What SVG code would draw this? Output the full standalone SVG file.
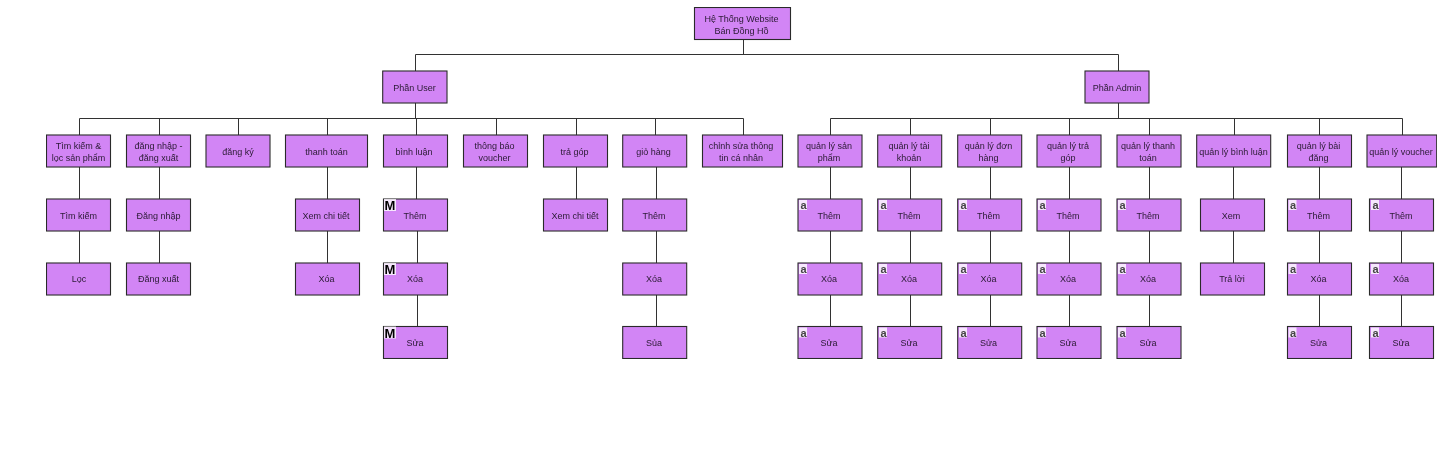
<svg xmlns="http://www.w3.org/2000/svg" width="1440" height="453" viewBox="0 0 1440 453">
<defs><filter id="soft" x="0" y="0" width="100%" height="100%"><feGaussianBlur stdDeviation="0.35"/></filter></defs>
<style>
rect.b{fill:#d285f5;stroke:#2c2c2c;stroke-width:1.1}
text{font-family:"Liberation Sans",Arial,sans-serif;font-size:9px;fill:#2a1a33;text-anchor:middle}
#connectors path{fill:none;stroke:#333;stroke-width:1}
rect.w{fill:#fff;stroke:none;opacity:.8}
text.m{font-size:13px;font-weight:bold;fill:#000}
text.a{font-size:11px;font-weight:bold;fill:#444}
</style>
<rect width="1440" height="453" fill="#fff"/>
<g filter="url(#soft)">
<g id="connectors">
<path d="M743.5 39V54.5M415.5 71V54.5H1118.5V71"/>
<path d="M415.5 103V118.5M1118.5 103V118.5"/>
<path d="M79.5 135V118.5H743.5V135M159.5 118.5V135M238.5 118.5V135M327.5 118.5V135M416.5 118.5V135M496.5 118.5V135M576.5 118.5V135M655.5 118.5V135"/>
<path d="M830.5 135V118.5H1402.5V135M910.5 118.5V135M990.5 118.5V135M1069.5 118.5V135M1149.5 118.5V135M1234.5 118.5V135M1319.5 118.5V135"/>
<path d="M79.5 167V263M159.5 167V263M327.5 167V263M416.5 167V199M417.5 231V326M576.5 167V199M656.5 167V326"/>
<path d="M830.5 167V326M910.5 167V326M990.5 167V326M1069.5 167V326M1149.5 167V326M1233.5 167V263M1319.5 167V326M1401.5 167V326"/>
</g>
<g id="root"><rect class="b" x="694.5" y="7.5" width="96" height="32"/><text x="741.5" y="21.5">Hệ Thống Website</text><text x="741.5" y="33.5">Bán Đồng Hồ</text></g>
<g id="user"><rect class="b" x="382.7" y="71" width="64.3" height="32"/><text x="414.5" y="90.5">Phần User</text></g>
<g id="admin"><rect class="b" x="1085" y="71" width="64" height="32"/><text x="1117" y="90.5">Phần Admin</text></g>

<g id="u1"><rect class="b" x="46.5" y="135" width="64" height="32"/><text x="78.5" y="149">Tìm kiếm &amp;</text><text x="78.5" y="161">lọc sản phẩm</text></g>
<g id="u1a"><rect class="b" x="46.5" y="199" width="64" height="32"/><text x="78.5" y="218.5">Tìm kiếm</text></g>
<g id="u1b"><rect class="b" x="46.5" y="263" width="64" height="32"/><text x="79" y="282">Lọc</text></g>
<g id="u2"><rect class="b" x="126.5" y="135" width="64" height="32"/><text x="158.5" y="149">đăng nhập -</text><text x="158.5" y="161">đăng xuất</text></g>
<g id="u2a"><rect class="b" x="126.5" y="199" width="64" height="32"/><text x="158.5" y="218.5">Đăng nhập</text></g>
<g id="u2b"><rect class="b" x="126.5" y="263" width="64" height="32"/><text x="158.5" y="282">Đăng xuất</text></g>
<g id="u3"><rect class="b" x="206" y="135" width="64" height="32"/><text x="238" y="154.5">đăng ký</text></g>
<g id="u4"><rect class="b" x="285.5" y="135" width="82" height="32"/><text x="326.5" y="154.5">thanh toán</text></g>
<g id="u4a"><rect class="b" x="295.5" y="199" width="64" height="32"/><text x="326" y="218.5">Xem chi tiết</text></g>
<g id="u4b"><rect class="b" x="295.5" y="263" width="64" height="32"/><text x="326.5" y="282">Xóa</text></g>
<g id="u5"><rect class="b" x="383.5" y="135" width="64" height="32"/><text x="414" y="154.5">bình luận</text></g>
<g id="u5a"><rect class="b" x="383.5" y="199" width="64" height="32"/><rect class="w" x="384" y="199" width="12" height="12"/><text class="m" x="390" y="210">M</text><text x="415" y="218.5">Thêm</text></g>
<g id="u5b"><rect class="b" x="383.5" y="263" width="64" height="32"/><rect class="w" x="384" y="263" width="12" height="12"/><text class="m" x="390" y="274">M</text><text x="415" y="282">Xóa</text></g>
<g id="u5c"><rect class="b" x="383.5" y="326.500" width="64" height="32"/><rect class="w" x="384" y="326.500" width="12" height="12"/><text class="m" x="390" y="337.500">M</text><text x="415" y="346">Sửa</text></g>
<g id="u6"><rect class="b" x="463.500" y="135" width="64" height="32"/><text x="494.500" y="149">thông báo</text><text x="494.500" y="161">voucher</text></g>
<g id="u7"><rect class="b" x="543.500" y="135" width="64" height="32"/><text x="574.500" y="154.500">trả góp</text></g>
<g id="u7a"><rect class="b" x="543.500" y="199" width="64" height="32"/><text x="575" y="218.500">Xem chi tiết</text></g>
<g id="u8"><rect class="b" x="622.700" y="135" width="64" height="32"/><text x="653.500" y="154.500">giỏ hàng</text></g>
<g id="u8a"><rect class="b" x="622.700" y="199" width="64" height="32"/><text x="654" y="218.500">Thêm</text></g>
<g id="u8b"><rect class="b" x="622.700" y="263" width="64" height="32"/><text x="654" y="282">Xóa</text></g>
<g id="u8c"><rect class="b" x="622.700" y="326.500" width="64" height="32"/><text x="654" y="346">Sủa</text></g>
<g id="u9"><rect class="b" x="702.500" y="135" width="80" height="32"/><text x="741" y="149">chỉnh sửa thông</text><text x="741" y="161">tin cá nhân</text></g>

<g id="a1"><rect class="b" x="798" y="135" width="64" height="32"/><text x="829" y="149">quản lý sản</text><text x="829" y="161">phẩm</text></g>
<g id="a1a"><rect class="b" x="798" y="199" width="64" height="32"/><rect class="w" x="799" y="200" width="8" height="10"/><text class="a" x="803.500" y="209">a</text><text x="829" y="218.500">Thêm</text></g>
<g id="a1b"><rect class="b" x="798" y="263" width="64" height="32"/><rect class="w" x="799" y="264" width="8" height="10"/><text class="a" x="803.500" y="273">a</text><text x="829" y="282">Xóa</text></g>
<g id="a1c"><rect class="b" x="798" y="326.500" width="64" height="32"/><rect class="w" x="799" y="327.500" width="8" height="10"/><text class="a" x="803.500" y="336.500">a</text><text x="829" y="346">Sửa</text></g>
<g id="a2"><rect class="b" x="877.700" y="135" width="64" height="32"/><text x="909" y="149">quản lý tài</text><text x="909" y="161">khoản</text></g>
<g id="a2a"><rect class="b" x="877.700" y="199" width="64" height="32"/><rect class="w" x="879" y="200" width="8" height="10"/><text class="a" x="883.500" y="209">a</text><text x="909" y="218.500">Thêm</text></g>
<g id="a2b"><rect class="b" x="877.700" y="263" width="64" height="32"/><rect class="w" x="879" y="264" width="8" height="10"/><text class="a" x="883.500" y="273">a</text><text x="909" y="282">Xóa</text></g>
<g id="a2c"><rect class="b" x="877.700" y="326.500" width="64" height="32"/><rect class="w" x="879" y="327.500" width="8" height="10"/><text class="a" x="883.500" y="336.500">a</text><text x="909" y="346">Sửa</text></g>
<g id="a3"><rect class="b" x="957.700" y="135" width="64" height="32"/><text x="988.500" y="149">quản lý đơn</text><text x="988.500" y="161">hàng</text></g>
<g id="a3a"><rect class="b" x="957.700" y="199" width="64" height="32"/><rect class="w" x="959" y="200" width="8" height="10"/><text class="a" x="963.500" y="209">a</text><text x="988.500" y="218.500">Thêm</text></g>
<g id="a3b"><rect class="b" x="957.700" y="263" width="64" height="32"/><rect class="w" x="959" y="264" width="8" height="10"/><text class="a" x="963.500" y="273">a</text><text x="988.500" y="282">Xóa</text></g>
<g id="a3c"><rect class="b" x="957.700" y="326.500" width="64" height="32"/><rect class="w" x="959" y="327.500" width="8" height="10"/><text class="a" x="963.500" y="336.500">a</text><text x="988.500" y="346">Sửa</text></g>
<g id="a4"><rect class="b" x="1037" y="135" width="64" height="32"/><text x="1068" y="149">quản lý trả</text><text x="1068" y="161">góp</text></g>
<g id="a4a"><rect class="b" x="1037" y="199" width="64" height="32"/><rect class="w" x="1038" y="200" width="8" height="10"/><text class="a" x="1042.500" y="209">a</text><text x="1068" y="218.500">Thêm</text></g>
<g id="a4b"><rect class="b" x="1037" y="263" width="64" height="32"/><rect class="w" x="1038" y="264" width="8" height="10"/><text class="a" x="1042.500" y="273">a</text><text x="1068" y="282">Xóa</text></g>
<g id="a4c"><rect class="b" x="1037" y="326.500" width="64" height="32"/><rect class="w" x="1038" y="327.500" width="8" height="10"/><text class="a" x="1042.500" y="336.500">a</text><text x="1068" y="346">Sửa</text></g>
<g id="a5"><rect class="b" x="1117" y="135" width="64" height="32"/><text x="1148" y="149">quản lý thanh</text><text x="1148" y="161">toán</text></g>
<g id="a5a"><rect class="b" x="1117" y="199" width="64" height="32"/><rect class="w" x="1118" y="200" width="8" height="10"/><text class="a" x="1122.500" y="209">a</text><text x="1148" y="218.500">Thêm</text></g>
<g id="a5b"><rect class="b" x="1117" y="263" width="64" height="32"/><rect class="w" x="1118" y="264" width="8" height="10"/><text class="a" x="1122.500" y="273">a</text><text x="1148" y="282">Xóa</text></g>
<g id="a5c"><rect class="b" x="1117" y="326.500" width="64" height="32"/><rect class="w" x="1118" y="327.500" width="8" height="10"/><text class="a" x="1122.500" y="336.500">a</text><text x="1148" y="346">Sửa</text></g>
<g id="a6"><rect class="b" x="1196.700" y="135" width="74" height="32"/><text x="1233.500" y="154.500">quản lý bình luận</text></g>
<g id="a6a"><rect class="b" x="1200.500" y="199" width="64" height="32"/><text x="1231" y="218.500">Xem</text></g>
<g id="a6b"><rect class="b" x="1200.500" y="263" width="64" height="32"/><text x="1232" y="282">Trả lời</text></g>
<g id="a7"><rect class="b" x="1287.500" y="135" width="64" height="32"/><text x="1318.500" y="149">quản lý bài</text><text x="1318.500" y="161">đăng</text></g>
<g id="a7a"><rect class="b" x="1287.500" y="199" width="64" height="32"/><rect class="w" x="1288.500" y="200" width="8" height="10"/><text class="a" x="1293" y="209">a</text><text x="1318.500" y="218.500">Thêm</text></g>
<g id="a7b"><rect class="b" x="1287.500" y="263" width="64" height="32"/><rect class="w" x="1288.500" y="264" width="8" height="10"/><text class="a" x="1293" y="273">a</text><text x="1318.500" y="282">Xóa</text></g>
<g id="a7c"><rect class="b" x="1287.500" y="326.500" width="64" height="32"/><rect class="w" x="1288.500" y="327.500" width="8" height="10"/><text class="a" x="1293" y="336.500">a</text><text x="1318.500" y="346">Sửa</text></g>
<g id="a8"><rect class="b" x="1367" y="135" width="69.700" height="32"/><text x="1401" y="154.500">quản lý voucher</text></g>
<g id="a8a"><rect class="b" x="1369.500" y="199" width="64" height="32"/><rect class="w" x="1371" y="200" width="8" height="10"/><text class="a" x="1375.500" y="209">a</text><text x="1401" y="218.500">Thêm</text></g>
<g id="a8b"><rect class="b" x="1369.500" y="263" width="64" height="32"/><rect class="w" x="1371" y="264" width="8" height="10"/><text class="a" x="1375.500" y="273">a</text><text x="1401" y="282">Xóa</text></g>
<g id="a8c"><rect class="b" x="1369.500" y="326.500" width="64" height="32"/><rect class="w" x="1371" y="327.500" width="8" height="10"/><text class="a" x="1375.500" y="336.500">a</text><text x="1401" y="346">Sửa</text></g>
</g>
</svg>
